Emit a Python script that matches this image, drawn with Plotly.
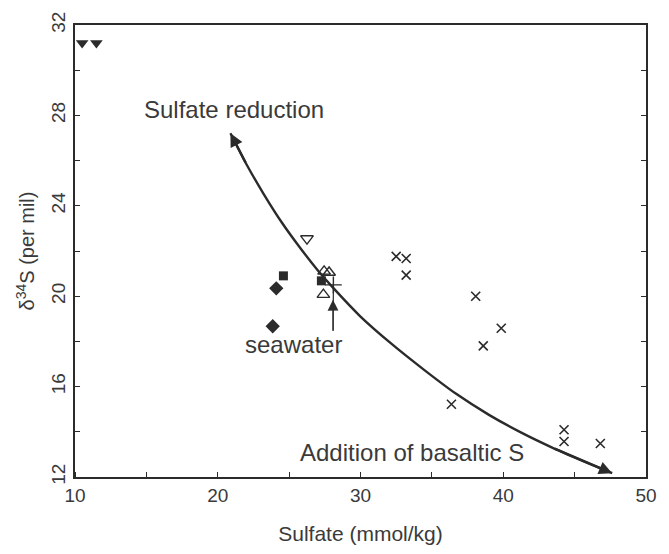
import plotly.graph_objects as go

# ---- data ----
tri_down_filled_x = [10.5, 11.5]
tri_down_filled_y = [31.2, 31.2]

tri_down_open_x = [26.25]
tri_down_open_y = [22.55]

square_x = [24.6, 27.26]
square_y = [20.9, 20.68]

diamond_x = [24.1, 23.85]
diamond_y = [20.35, 18.67]

tri_up_open_x = [27.45, 27.8, 27.4]
tri_up_open_y = [21.1, 21.05, 20.07]

cross_x = [32.5, 33.2, 33.2, 38.07, 39.86, 38.6, 36.37, 44.26, 44.26, 46.8]
cross_y = [21.76, 21.67, 20.93, 20.0, 18.58, 17.8, 15.22, 14.09, 13.57, 13.48]

seawater_x = [28.1]
seawater_y = [20.5]

curve_x = [20.89, 22.0, 23.23, 24.5, 25.7, 27.0, 28.04, 30.0, 32.16, 34.5, 36.7, 39.0, 41.3, 43.5, 46.1, 47.63]
curve_y = [27.21, 25.85, 24.51, 23.25, 22.2, 21.15, 20.4, 19.1, 17.9, 16.72, 15.68, 14.75, 13.95, 13.28, 12.57, 12.17]

x_ticks = [10, 20, 30, 40, 50]
y_ticks = [12, 16, 20, 24, 28, 32]

INK = "#2b2b2b"
TXT = "#3a3a3a"
FONT = "Liberation Sans, Arial, sans-serif"

fig = go.Figure()

fig.add_trace(go.Scatter(x=curve_x, y=curve_y, mode="lines",
                         line=dict(color=INK, width=2.4, shape="spline", smoothing=0.5),
                         hoverinfo="skip"))

def pts(x, y, symbol, size, lw=1.5):
    fig.add_trace(go.Scatter(x=x, y=y, mode="markers",
                             marker=dict(symbol=symbol, size=size, color=INK,
                                         line=dict(color=INK, width=lw))))

pts(tri_down_filled_x, tri_down_filled_y, "triangle-down", 11, 0)
pts(tri_down_open_x, tri_down_open_y, "triangle-down-open", 11, 1.4)
pts(square_x, square_y, "square", 9, 0)
pts(diamond_x, diamond_y, "diamond", 11, 0)
pts(tri_up_open_x, tri_up_open_y, "triangle-up-open", 11, 1.4)
pts(cross_x, cross_y, "x-thin-open", 9, 1.6)
pts(seawater_x, seawater_y, "cross-thin-open", 12, 1.4)

ann = []
# arrowheads at the curve ends
ann.append(dict(x=curve_x[0], y=curve_y[0], ax=curve_x[1], ay=curve_y[1], xref="x", yref="y",
                axref="x", ayref="y", text="", showarrow=True, arrowhead=2,
                arrowsize=1.1, arrowwidth=2.4, arrowcolor=INK))
ann.append(dict(x=curve_x[-1], y=curve_y[-1], ax=curve_x[-3], ay=curve_y[-3], xref="x", yref="y",
                axref="x", ayref="y", text="", showarrow=True, arrowhead=2,
                arrowsize=1.1, arrowwidth=2.4, arrowcolor=INK))
# seawater pointer
ann.append(dict(x=seawater_x[0], y=seawater_y[0], ax=28.08, ay=18.4, xref="x", yref="y",
                axref="x", ayref="y", text="", showarrow=True, arrowhead=0,
                arrowwidth=1.2, arrowcolor=INK))
ann.append(dict(x=28.07, y=19.84, ax=28.08, ay=18.4, xref="x", yref="y",
                axref="x", ayref="y", text="", showarrow=True, arrowhead=2,
                arrowsize=1.8, arrowwidth=1.2, arrowcolor=INK))

ann.append(dict(x=21.13, y=28.25, xref="x", yref="y", text="Sulfate reduction",
                showarrow=False, font=dict(family=FONT, size=24, color=TXT)))
ann.append(dict(x=33.64, y=13.09, xref="x", yref="y", text="Addition of basaltic S",
                showarrow=False, font=dict(family=FONT, size=24, color=TXT)))
ann.append(dict(x=25.29, y=17.88, xref="x", yref="y", text="seawater",
                showarrow=False, font=dict(family=FONT, size=24, color=TXT)))

fig.update_layout(
    width=669, height=554,
    margin=dict(l=75, r=13, t=18, b=77),
    paper_bgcolor="white", plot_bgcolor="white",
    showlegend=False,
    annotations=ann,
    font=dict(family=FONT, color=TXT),
)

fig.update_xaxes(range=[10, 50], tickvals=x_ticks, ticktext=[str(v) for v in x_ticks],
                 showgrid=False, zeroline=False, showline=True, linecolor=INK, linewidth=2,
                 mirror=True, ticks="",
                 minor=dict(dtick=5, ticks="inside", ticklen=5, tickcolor=INK, tickwidth=1),
                 tickfont=dict(family=FONT, size=19, color=TXT),
                 title=dict(text="Sulfate (mmol/kg)", font=dict(family=FONT, size=21, color=TXT),
                            standoff=22))
fig.update_yaxes(range=[12, 32], tickvals=y_ticks, ticktext=[str(v) for v in y_ticks],
                 showgrid=False, zeroline=False, showline=True, linecolor=INK, linewidth=2,
                 mirror="ticks", ticks="inside", ticklen=5, tickcolor=INK, tickwidth=1,
                 tickangle=-90,
                 minor=dict(dtick=2, ticks="inside", ticklen=5, tickcolor=INK, tickwidth=1),
                 tickfont=dict(family=FONT, size=19, color=TXT),
                 title=dict(text="δ<sup>34</sup>S (per mil)", font=dict(family=FONT, size=20, color=TXT),
                            standoff=8))

fig.write_html("out.html")
